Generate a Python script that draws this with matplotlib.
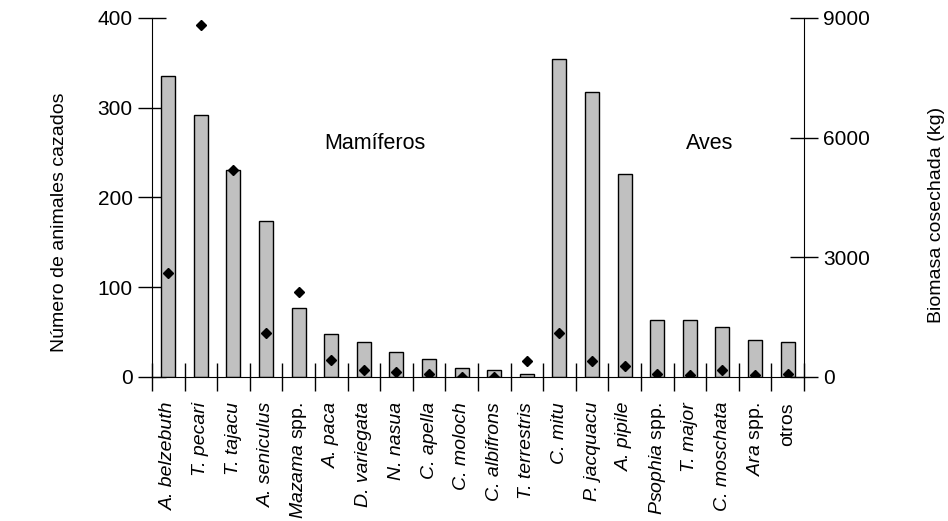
import numpy as np
import matplotlib.pyplot as plt

plt.rcParams['font.family'] = ['Liberation Sans', 'DejaVu Sans']
plt.rcParams['mathtext.fontset'] = 'custom'
plt.rcParams['mathtext.it'] = 'Liberation Sans:italic'
plt.rcParams['mathtext.rm'] = 'Liberation Sans'

# species labels
labels = ['A. belzebuth', 'T. pecari', 'T. tajacu', 'A. seniculus', 'Mazama spp.',
          'A. paca', 'D. variegata', 'N. nasua', 'C. apella', 'C. moloch',
          'C. albifrons', 'T. terrestris', 'C. mitu', 'P. jacquacu', 'A. pipile',
          'Psophia spp.', 'T. major', 'C. moschata', 'Ara spp.', 'otros']
# number of animals hunted (left axis)
cazados = [335, 292, 231, 174, 77, 48, 39, 28, 20, 10, 8, 3,
           354, 318, 226, 64, 64, 56, 41, 39]
# harvested biomass in kg (right axis)
biomasa = [2600, 8820, 5200, 1110, 2120, 430, 175, 135, 70, 10, 5, 410,
           1095, 410, 285, 75, 60, 175, 60, 70]

x = np.arange(len(labels))

fig = plt.figure(figsize=(9.48, 5.21), dpi=100)
ax = fig.add_axes([0.1603, 0.2764, 0.6877, 0.6891])
ax2 = ax.twinx()

ax.bar(x, cazados, width=0.43, color='#c0c0c0', edgecolor='black', linewidth=1.0, zorder=2)
ax2.plot(x, biomasa, linestyle='none', marker='D', markersize=5.5, color='black', zorder=3)

ax.set_xlim(-0.5, len(labels) - 0.5)
ax.set_ylim(0, 400)
ax2.set_ylim(0, 9000)
ax.set_yticks([0, 100, 200, 300, 400])
ax2.set_yticks([0, 3000, 6000, 9000])

for a in (ax, ax2):
    a.spines['top'].set_visible(False)
ax.spines['right'].set_visible(False)
ax2.spines['left'].set_visible(False)
ax2.spines['bottom'].set_visible(False)

# genus in italics, "spp." and "otros" upright
tick_texts = []
for lab in labels:
    if lab.endswith(' spp.'):
        tick_texts.append(r'$\it{' + lab[:-5] + '}$ spp.')
    else:
        tick_texts.append(lab)

# category separators as major ticks, labels on minor ticks
ax.set_xticks(np.arange(-0.5, len(labels), 1.0))
ax.set_xticklabels([])
ax.set_xticks(x, minor=True)
ax.set_xticklabels(tick_texts, minor=True, rotation=90, fontsize=14)
for lab, t in zip(labels, ax.get_xticklabels(minor=True)):
    if '.' in lab and not lab.endswith(' spp.'):
        t.set_fontstyle('italic')
ax.tick_params(axis='x', which='major', direction='inout', length=20, width=1)
ax.tick_params(axis='x', which='minor', length=0, pad=18)

ax.tick_params(axis='y', direction='inout', length=20, width=1, labelsize=15, pad=4)
ax2.tick_params(axis='y', direction='inout', length=20, width=1, labelsize=15, pad=4)

ax.set_ylabel('Número de animales cazados', fontsize=14)
ax.yaxis.set_label_coords(-0.129, 0.43)
ax2.set_ylabel('Biomasa cosechada (kg)', fontsize=14)
ax2.yaxis.set_label_coords(1.19, 0.45)

ax.text(6.34, 260, 'Mamíferos', fontsize=15.5, ha='center', va='center')
ax.text(16.6, 260, 'Aves', fontsize=15.5, ha='center', va='center')

fig.savefig('out.png', dpi=100)
